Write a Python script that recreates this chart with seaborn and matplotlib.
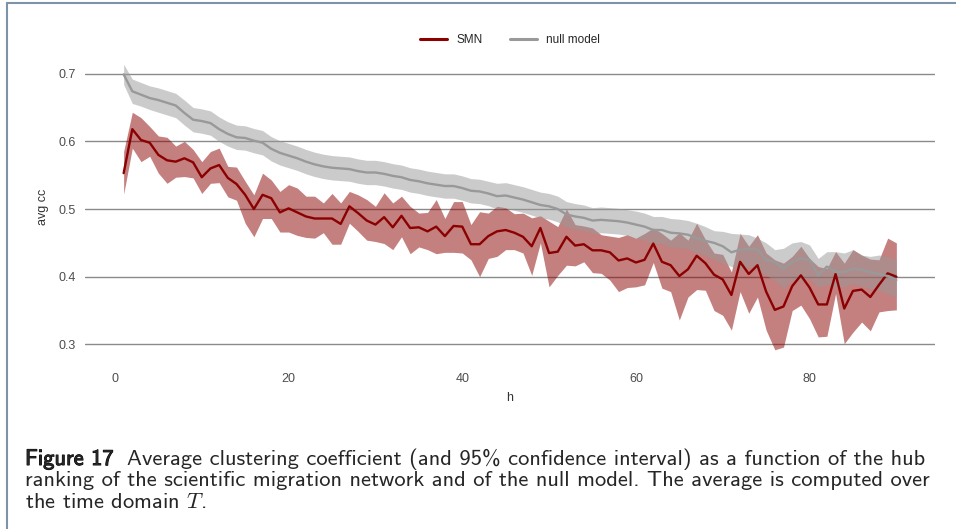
import matplotlib
matplotlib.use('Agg')
import matplotlib.pyplot as plt
import matplotlib.patheffects as pe
from matplotlib.lines import Line2D
import pandas as pd
import seaborn as sns

# datos (h = posicion en el ranking de hubs)
h = list(range(1, 91))

smn_mean = [0.553, 0.618, 0.602, 0.598, 0.580, 0.572, 0.570, 0.575, 0.569, 0.547,
            0.560, 0.565, 0.546, 0.537, 0.521, 0.500, 0.521, 0.516, 0.495, 0.501,
            0.495, 0.489, 0.486, 0.486, 0.486, 0.478, 0.504, 0.494, 0.483, 0.477,
            0.488, 0.473, 0.490, 0.472, 0.473, 0.467, 0.474, 0.460, 0.475, 0.474,
            0.448, 0.448, 0.460, 0.467, 0.469, 0.465, 0.459, 0.445, 0.472, 0.435,
            0.437, 0.459, 0.446, 0.448, 0.439, 0.439, 0.436, 0.424, 0.427, 0.421,
            0.425, 0.449, 0.422, 0.417, 0.401, 0.411, 0.431, 0.420, 0.403, 0.396,
            0.373, 0.422, 0.404, 0.417, 0.378, 0.351, 0.356, 0.386, 0.402, 0.384,
            0.359, 0.359, 0.404, 0.353, 0.379, 0.381, 0.370, 0.388, 0.405, 0.400]

smn_hi = [0.585, 0.643, 0.635, 0.622, 0.608, 0.606, 0.593, 0.600, 0.588, 0.570,
          0.585, 0.590, 0.563, 0.562, 0.541, 0.521, 0.553, 0.543, 0.526, 0.536,
          0.531, 0.519, 0.519, 0.509, 0.523, 0.509, 0.526, 0.521, 0.514, 0.504,
          0.524, 0.509, 0.519, 0.504, 0.494, 0.495, 0.514, 0.486, 0.511, 0.511,
          0.477, 0.496, 0.494, 0.504, 0.502, 0.493, 0.494, 0.487, 0.490, 0.482,
          0.474, 0.500, 0.477, 0.475, 0.472, 0.462, 0.460, 0.458, 0.462, 0.457,
          0.464, 0.472, 0.464, 0.454, 0.465, 0.454, 0.479, 0.455, 0.435, 0.433,
          0.407, 0.464, 0.445, 0.462, 0.435, 0.425, 0.420, 0.430, 0.445, 0.427,
          0.415, 0.412, 0.437, 0.420, 0.440, 0.432, 0.426, 0.425, 0.457, 0.450]

smn_lo = [0.522, 0.590, 0.570, 0.578, 0.553, 0.538, 0.547, 0.548, 0.546, 0.523,
          0.538, 0.539, 0.518, 0.513, 0.479, 0.459, 0.486, 0.486, 0.466, 0.466,
          0.461, 0.458, 0.457, 0.465, 0.448, 0.448, 0.479, 0.467, 0.454, 0.452,
          0.449, 0.440, 0.459, 0.434, 0.444, 0.440, 0.434, 0.436, 0.436, 0.435,
          0.425, 0.400, 0.427, 0.430, 0.440, 0.440, 0.435, 0.402, 0.450, 0.385,
          0.402, 0.417, 0.416, 0.422, 0.406, 0.405, 0.395, 0.378, 0.384, 0.385,
          0.388, 0.421, 0.383, 0.378, 0.336, 0.370, 0.381, 0.380, 0.350, 0.343,
          0.321, 0.378, 0.346, 0.370, 0.321, 0.292, 0.296, 0.350, 0.358, 0.338,
          0.311, 0.312, 0.375, 0.301, 0.318, 0.333, 0.320, 0.348, 0.350, 0.351]

null_mean = [0.699, 0.674, 0.669, 0.664, 0.661, 0.657, 0.653, 0.642, 0.632, 0.630,
             0.627, 0.618, 0.611, 0.606, 0.605, 0.601, 0.598, 0.589, 0.583, 0.579,
             0.575, 0.570, 0.566, 0.563, 0.561, 0.560, 0.559, 0.556, 0.554, 0.554,
             0.552, 0.549, 0.547, 0.543, 0.541, 0.538, 0.536, 0.534, 0.534, 0.531,
             0.527, 0.526, 0.523, 0.519, 0.520, 0.517, 0.514, 0.510, 0.506, 0.504,
             0.500, 0.492, 0.489, 0.487, 0.483, 0.484, 0.483, 0.482, 0.480, 0.477,
             0.474, 0.469, 0.469, 0.465, 0.464, 0.462, 0.457, 0.453, 0.450, 0.445,
             0.436, 0.440, 0.441, 0.440, 0.425, 0.422, 0.412, 0.422, 0.427, 0.425,
             0.402, 0.415, 0.407, 0.407, 0.412, 0.410, 0.407, 0.404, 0.401, 0.395]

null_hi = [0.714, 0.692, 0.687, 0.682, 0.679, 0.675, 0.671, 0.661, 0.650, 0.648,
           0.645, 0.636, 0.629, 0.624, 0.623, 0.619, 0.616, 0.607, 0.601, 0.597,
           0.593, 0.588, 0.584, 0.581, 0.579, 0.578, 0.577, 0.574, 0.572, 0.572,
           0.570, 0.567, 0.565, 0.561, 0.559, 0.556, 0.554, 0.552, 0.552, 0.549,
           0.545, 0.544, 0.541, 0.538, 0.539, 0.536, 0.533, 0.529, 0.525, 0.523,
           0.519, 0.511, 0.508, 0.506, 0.502, 0.503, 0.502, 0.501, 0.499, 0.497,
           0.494, 0.489, 0.489, 0.486, 0.485, 0.483, 0.479, 0.474, 0.468, 0.467,
           0.464, 0.463, 0.462, 0.457, 0.450, 0.440, 0.442, 0.450, 0.452, 0.447,
           0.427, 0.437, 0.437, 0.435, 0.440, 0.432, 0.430, 0.432, 0.430, 0.425]

null_lo = [0.684, 0.656, 0.652, 0.647, 0.643, 0.639, 0.635, 0.624, 0.614, 0.612,
           0.609, 0.600, 0.593, 0.588, 0.587, 0.583, 0.580, 0.571, 0.565, 0.561,
           0.557, 0.552, 0.548, 0.545, 0.543, 0.542, 0.541, 0.538, 0.536, 0.536,
           0.534, 0.531, 0.529, 0.525, 0.523, 0.520, 0.518, 0.516, 0.516, 0.513,
           0.509, 0.508, 0.505, 0.500, 0.501, 0.498, 0.495, 0.491, 0.487, 0.485,
           0.481, 0.473, 0.470, 0.468, 0.464, 0.465, 0.464, 0.463, 0.461, 0.457,
           0.454, 0.449, 0.449, 0.444, 0.443, 0.441, 0.435, 0.432, 0.425, 0.420,
           0.415, 0.410, 0.415, 0.410, 0.402, 0.395, 0.383, 0.395, 0.395, 0.398,
           0.385, 0.388, 0.385, 0.385, 0.390, 0.386, 0.383, 0.380, 0.375, 0.370]

modelos = ['SMN', 'null model']
colores = {'SMN': '#8b0000', 'null model': '#999999'}

sns.set_style('white')
plt.rcParams['font.family'] = ['Liberation Sans', 'DejaVu Sans']
plt.rcParams['mathtext.fontset'] = 'cm'

fig = plt.figure(figsize=(9.56, 5.29), dpi=100)
ax = fig.add_axes([85 / 956, 1 - 364 / 529, 850 / 956, 314 / 529])

# bandas de confianza
ax.fill_between(h, smn_lo, smn_hi, color=colores['SMN'], alpha=0.5, linewidth=0)
ax.fill_between(h, null_lo, null_hi, color=colores['null model'], alpha=0.5, linewidth=0)

df = pd.DataFrame({'h': h + h,
                   'avg cc': smn_mean + null_mean,
                   'modelo': [modelos[0]] * len(h) + [modelos[1]] * len(h)})
sns.lineplot(data=df, x='h', y='avg cc', hue='modelo', hue_order=modelos,
             palette=colores, linewidth=1.7, errorbar=None, legend=False, ax=ax)

ax.set_xlim(-3.45, 94.45)
ax.set_ylim(0.271, 0.735)
ax.set_xticks([0, 20, 40, 60, 80])
ax.set_yticks([0.3, 0.4, 0.5, 0.6, 0.7])
ax.set_yticklabels(['0.3', '0.4', '0.5', '0.6', '0.7'])
ax.tick_params(length=0, labelsize=9, labelcolor='#4d4d4d', pad=6.5)
ax.yaxis.grid(True, color='#8a8a8a', linewidth=1.0)
ax.xaxis.grid(False)
for s in ax.spines.values():
    s.set_visible(False)
ax.set_xlabel('h', fontsize=9, color='#333333', labelpad=5)
ax.set_ylabel('avg cc', fontsize=9, color='#333333', labelpad=7)

handles = [Line2D([], [], color=colores[m], linewidth=2.2) for m in modelos]
fig.legend(handles, modelos, loc='center', bbox_to_anchor=(510 / 956, 1 - 40 / 529),
           ncol=2, frameon=False, fontsize=8.5, handlelength=2.3,
           handletextpad=0.8, columnspacing=2.3)

# marco de la figura
borde = '#7f93a8'
fig.add_artist(Line2D([7 / 956, 7 / 956], [0, 1 - 3 / 529], transform=fig.transFigure,
                      color=borde, linewidth=1.5))
fig.add_artist(Line2D([7 / 956, 1], [1 - 3 / 529, 1 - 3 / 529], transform=fig.transFigure,
                      color=borde, linewidth=1.5))

# pie de figura
fs = 16.2
fig.text(25 / 956, 1 - 465 / 529, 'Figure 17', fontsize=fs, family='cmss10',
         va='baseline', path_effects=[pe.withStroke(linewidth=0.7, foreground='black')])
fig.text(127 / 956, 1 - 465 / 529,
         'Average clustering coefficient (and 95% confidence interval) as a function of the hub',
         fontsize=fs, family='cmss10', va='baseline')
fig.text(25 / 956, 1 - 486.5 / 529,
         'ranking of the scientific migration network and of the null model. The average is computed over',
         fontsize=fs, family='cmss10', va='baseline')
fig.text(25 / 956, 1 - 508 / 529, 'the time domain $T$.', fontsize=fs, family='cmss10',
         va='baseline')

plt.savefig('out.png', dpi=100)
